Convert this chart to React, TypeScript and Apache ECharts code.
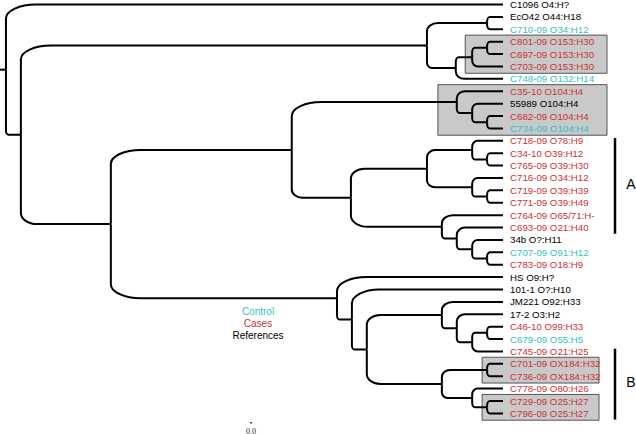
import React, { useEffect, useRef } from "react";
import * as echarts from "echarts";

// ---- Data ----
const LEAF_NAMES = [
  "C1096 O4:H?", "EcO42 O44:H18", "C710-09 O34:H12", "C801-09 O153:H30", "C697-09 O153:H30",
  "C703-09 O153:H30", "C748-09 O132:H14", "C35-10 O104:H4", "55989 O104:H4", "C682-09 O104:H4",
  "C734-09 O104:H4", "C718-09 O78:H9", "C34-10 O39:H12", "C765-09 O39:H30", "C716-09 O34:H12",
  "C719-09 O39:H39", "C771-09 O39:H49", "C764-09 O65/71:H-", "C693-09 O21:H40", "34b O?:H11",
  "C707-09 O91:H12", "C783-09 O18:H9", "HS O9:H?", "101-1 O?:H10", "JM221 O92:H33",
  "17-2 O3:H2", "C46-10 O99:H33", "C679-09 O55:H5", "C745-09 O21:H25", "C701-09 OX184:H32",
  "C736-09 OX184:H32", "C778-09 O80:H26", "C729-09 O25:H27", "C796-09 O25:H27",
];
// 0 = Control, 1 = Cases, 2 = References
const LEAF_GROUPS = [
  2, 2, 0, 1, 1, 1, 0, 1, 2, 1, 0, 1, 1, 1, 1, 1, 1, 1, 1, 2, 0, 1, 2, 2, 2, 2, 1, 0, 1, 1, 1, 1, 1, 1,
];
// parent internal node of each leaf
const LEAF_PARENTS = [
  0, 3, 3, 6, 6, 5, 4, 9, 10, 11, 11, 14, 15, 15, 16, 17, 17, 18, 19, 20, 21, 21,
  22, 23, 25, 26, 28, 28, 27, 30, 30, 31, 32, 32,
];
// internal nodes: parent index (-1 = root) and depth (tips at 100)
const NODE_PARENTS = [
  -1, 0, 1, 2, 2, 4, 5, 1, 7, 8, 9, 10, 8, 12, 13, 14, 13, 16, 12, 18, 19, 20,
  7, 22, 23, 24, 25, 26, 27, 24, 29, 29, 31,
];
const NODE_DEPTHS = [
  0, 3.0, 84.7, 96.8, 90.5, 93.8, 96.8, 21.1, 57.5, 90.7, 93.8, 96.8, 69.4, 84.7, 93.8, 96.8,
  93.8, 96.8, 87.7, 90.7, 93.8, 96.8, 66.6, 69.6, 72.6, 87.7, 90.7, 93.8, 96.8, 87.7, 96.8,
  93.8, 96.8,
];
const TIP_DEPTH = 100;
const ROOT_STUB = -1.2;
// highlighted boxes: first leaf, last leaf, left depth
const BOX_FIRST = [3, 7, 29, 32];
const BOX_LAST = [5, 10, 30, 33];
const BOX_LEFT = [92.4, 86.9, 95.8, 95.8];
// clade bars
const CLADE_NAMES = ["A", "B"];
const CLADE_FIRST = [11, 28];
const CLADE_LAST = [18, 33];
const LEGEND_LABELS = ["Control", "Cases", "References"];
const SCALE_LABEL = "0.0";

// ---- Styles ----
const GROUP_COLORS = ["#33c2c9", "#cc3333", "#000000"];
const FONT = '"Liberation Sans", Arial, sans-serif';
const BOX_RIGHT_PAD = [104, 104, 96, 96];

function computeTree() {
  const n = NODE_PARENTS.length;
  const minY = new Array(n).fill(Infinity);
  const maxY = new Array(n).fill(-Infinity);
  LEAF_PARENTS.forEach((p, i) => {
    minY[p] = Math.min(minY[p], i);
    maxY[p] = Math.max(maxY[p], i);
  });
  const nodeY = new Array(n).fill(0);
  for (let k = n - 1; k >= 0; k--) {
    nodeY[k] = (minY[k] + maxY[k]) / 2;
    const p = NODE_PARENTS[k];
    if (p >= 0) {
      minY[p] = Math.min(minY[p], nodeY[k]);
      maxY[p] = Math.max(maxY[p], nodeY[k]);
    }
  }
  const branches: number[][] = [];
  branches.push([ROOT_STUB, nodeY[0], 0, nodeY[0]]);
  for (let k = 1; k < n; k++) {
    const p = NODE_PARENTS[k];
    branches.push([NODE_DEPTHS[p], nodeY[p], NODE_DEPTHS[k], nodeY[k]]);
  }
  LEAF_PARENTS.forEach((p, i) => {
    branches.push([NODE_DEPTHS[p], nodeY[p], TIP_DEPTH, i]);
  });
  return branches;
}

export default function App() {
  const ref = useRef<HTMLDivElement>(null);
  useEffect(() => {
    if (!ref.current) return;
    const chart = echarts.init(ref.current, undefined, { renderer: "svg" });
    const branches = computeTree();
    const leafData = LEAF_NAMES.map((_, i) => [TIP_DEPTH, i, LEAF_GROUPS[i]]);
    const boxData = BOX_FIRST.map((f, i) => [BOX_LEFT[i], f, BOX_LAST[i], i]);
    const cladeData = CLADE_FIRST.map((f, i) => [TIP_DEPTH, f, CLADE_LAST[i], i]);

    const option: any = {
      animation: false,
      backgroundColor: "#fff",
      grid: { left: 0, right: 133, top: 4.5, bottom: 20.6 },
      xAxis: { type: "value", min: ROOT_STUB, max: TIP_DEPTH, show: false },
      yAxis: { type: "value", min: 0, max: LEAF_NAMES.length - 1, inverse: true, show: false },
      series: [
        {
          type: "custom",
          z: 1,
          silent: true,
          data: boxData,
          renderItem: (params: any, api: any) => {
            const idx = api.value(3);
            const tl = api.coord([api.value(0), api.value(1) - 0.53]);
            const tip = api.coord([TIP_DEPTH, api.value(2) + 0.55]);
            const right = tip[0] + BOX_RIGHT_PAD[idx];
            return {
              type: "rect",
              shape: { x: tl[0], y: tl[1], width: right - tl[0], height: tip[1] - tl[1] },
              style: { fill: "#c9c9c9", stroke: "#555555", lineWidth: 1 },
            };
          },
        },
        {
          type: "custom",
          z: 2,
          silent: true,
          data: branches,
          renderItem: (params: any, api: any) => {
            const p = api.coord([api.value(0), api.value(1)]);
            const c = api.coord([api.value(2), api.value(3)]);
            const dx = c[0] - p[0];
            const dy = c[1] - p[1];
            let d: string;
            if (Math.abs(dy) < 0.5) {
              d = `M${p[0]},${p[1]}L${c[0]},${c[1]}`;
            } else {
              const rx = Math.min(0.18 * dx, 30);
              const ry = Math.min(0.5 * rx + 3, 14, Math.abs(dy) * 0.8);
              const s = Math.sign(dy);
              d =
                `M${p[0]},${p[1]}L${p[0]},${c[1] - s * ry}` +
                `C${p[0]},${c[1] - s * ry * 0.45} ${p[0] + rx * 0.45},${c[1]} ${p[0] + rx},${c[1]}` +
                `L${c[0]},${c[1]}`;
            }
            return {
              type: "path",
              shape: { pathData: d },
              style: { stroke: "#000", lineWidth: 2, fill: "none" },
            };
          },
        },
        {
          type: "custom",
          z: 3,
          silent: true,
          data: leafData,
          renderItem: (params: any, api: any) => {
            const i = api.value(1);
            const pt = api.coord([api.value(0), i]);
            return {
              type: "text",
              x: pt[0] + 7,
              y: pt[1],
              style: {
                text: LEAF_NAMES[i],
                fill: GROUP_COLORS[api.value(2)],
                font: `9.7px ${FONT}`,
                align: "left",
                verticalAlign: "middle",
              },
            };
          },
        },
        {
          type: "custom",
          z: 3,
          silent: true,
          data: cladeData,
          renderItem: (params: any, api: any) => {
            const top = api.coord([api.value(0), api.value(1) - 0.22]);
            const bot = api.coord([api.value(0), api.value(2) + 0.5]);
            const x = top[0] + 112;
            return {
              type: "group",
              children: [
                {
                  type: "line",
                  shape: { x1: x, y1: top[1], x2: x, y2: bot[1] },
                  style: { stroke: "#000", lineWidth: 2.5 },
                },
                {
                  type: "text",
                  x: x + 16,
                  y: (top[1] + bot[1]) / 2 - 2,
                  style: {
                    text: CLADE_NAMES[api.value(3)],
                    fill: "#000",
                    font: `14px ${FONT}`,
                    align: "center",
                    verticalAlign: "middle",
                  },
                },
              ],
            };
          },
        },
      ],
      graphic: [
        ...LEGEND_LABELS.map((t, i) => ({
          type: "text",
          x: 258,
          y: 311 + i * 12,
          style: {
            text: t,
            fill: GROUP_COLORS[i],
            font: `10px ${FONT}`,
            align: "center",
            verticalAlign: "middle",
          },
        })),
        {
          type: "rect",
          shape: { x: 250.3, y: 422, width: 1.5, height: 1.5 },
          style: { fill: "#000" },
        },
        {
          type: "text",
          x: 251,
          y: 431,
          style: {
            text: SCALE_LABEL,
            fill: "#222",
            font: '8px "Liberation Serif", "DejaVu Serif", serif',
            align: "center",
            verticalAlign: "middle",
          },
        },
      ],
    };
    chart.setOption(option);
    return () => chart.dispose();
  }, []);
  return (
    <div
      ref={ref}
      style={{ position: "fixed", left: 0, top: 0, width: 636, height: 434, background: "#fff" }}
    />
  );
}
